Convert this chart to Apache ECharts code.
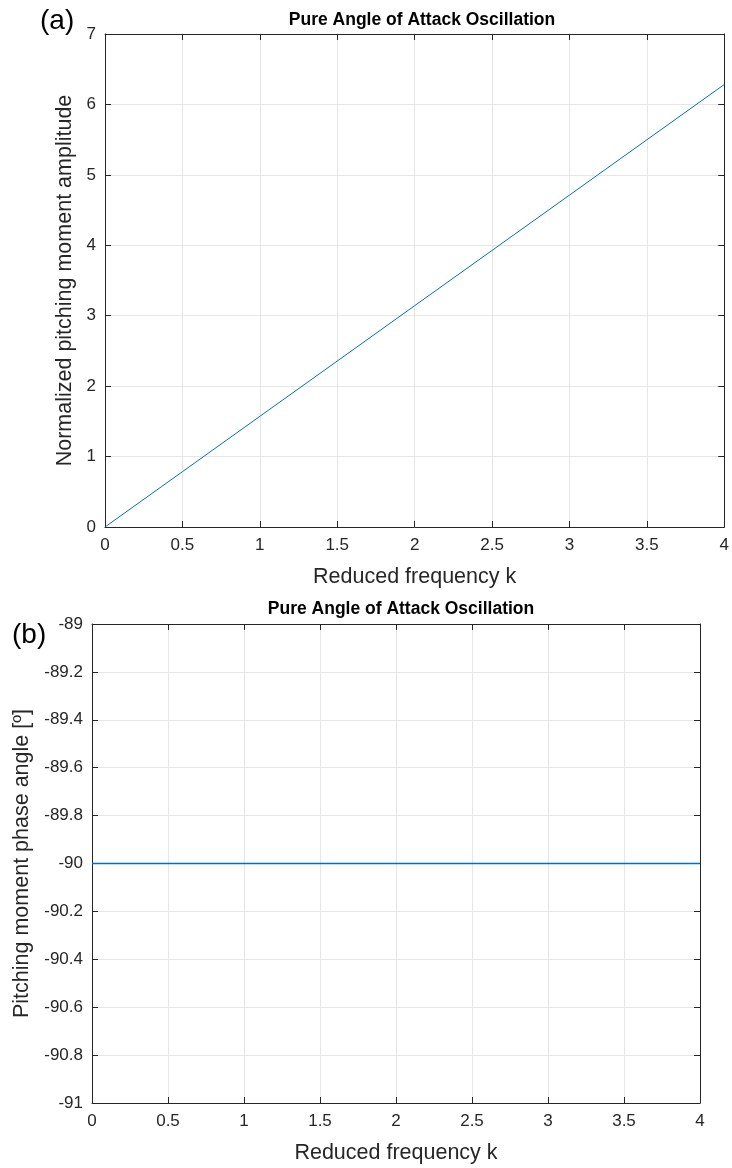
<!DOCTYPE html>
<html>
<head>
<meta charset="utf-8">
<script src="https://cdn.jsdelivr.net/npm/echarts@6/dist/echarts.min.js"></script>
<style>html,body{margin:0;padding:0;background:#fff}#c{width:732px;height:1168px}</style>
</head>
<body>
<div id="c"></div>
<script>
var kValues = [0, 0.5, 1, 1.5, 2, 2.5, 3, 3.5, 4];
var amplitude = [0, 0.785, 1.571, 2.356, 3.142, 3.927, 4.712, 5.498, 6.283];
var phase = [-90, -90, -90, -90, -90, -90, -90, -90, -90];
var titleA = 'Pure Angle of Attack Oscillation';
var titleB = 'Pure Angle of Attack Oscillation';
var xName = 'Reduced frequency k';
var yNameA = 'Normalized pitching moment amplitude';
var yNameB = 'Pitching moment phase angle [º]';

var FONT = 'Liberation Sans, Arial, sans-serif';
var AX = '#262626';
var GRID = '#e6e6e6';
var BLUE = '#0072BD';

function fmt(v) {
  var s = (Math.round(v * 10) / 10).toFixed(1);
  if (s.slice(-2) === '.0') s = s.slice(0, -2);
  return s;
}

var grids = [
  {left: 105, top: 34, width: 624, height: 493},
  {left: 92, top: 624, width: 608, height: 479}
];

function xAxes(gi, nameGap) {
  return [
    {type: 'value', gridIndex: gi, min: 0, max: 4, interval: 0.5, position: 'bottom',
     name: xName, nameLocation: 'middle', nameGap: nameGap,
     nameTextStyle: {fontFamily: FONT, fontSize: 21.5, color: AX},
     axisLine: {show: true, onZero: false, lineStyle: {color: AX, width: 1}},
     axisTick: {show: true, inside: true, length: 6, lineStyle: {color: AX}},
     axisLabel: {fontFamily: FONT, fontSize: 17, color: AX, margin: 10, formatter: fmt},
     splitLine: {show: true, lineStyle: {color: GRID, width: 1}}},
    {type: 'value', gridIndex: gi, min: 0, max: 4, interval: 0.5, position: 'top',
     axisLine: {show: true, onZero: false, lineStyle: {color: AX, width: 1}},
     axisTick: {show: true, inside: true, length: 6, lineStyle: {color: AX}},
     axisLabel: {show: false}, splitLine: {show: false}}
  ];
}

function yAxes(gi, min, max, interval, name, nameGap) {
  return [
    {type: 'value', gridIndex: gi, min: min, max: max, interval: interval, position: 'left',
     name: name, nameLocation: 'middle', nameGap: nameGap,
     nameTextStyle: {fontFamily: FONT, fontSize: 21.5, color: AX},
     axisLine: {show: true, onZero: false, lineStyle: {color: AX, width: 1}},
     axisTick: {show: true, inside: true, length: 6, lineStyle: {color: AX}},
     axisLabel: {fontFamily: FONT, fontSize: 17, color: AX, margin: 9, formatter: fmt},
     splitLine: {show: true, lineStyle: {color: GRID, width: 1}}},
    {type: 'value', gridIndex: gi, min: min, max: max, interval: interval, position: 'right',
     axisLine: {show: true, onZero: false, lineStyle: {color: AX, width: 1}},
     axisTick: {show: true, inside: true, length: 6, lineStyle: {color: AX}},
     axisLabel: {show: false}, splitLine: {show: false}}
  ];
}

var chart = echarts.init(document.getElementById('c'), null, {renderer: 'canvas'});
chart.setOption({
  animation: false,
  backgroundColor: '#fff',
  title: [
    {text: titleA, left: 417, top: 6, textAlign: 'center',
     textStyle: {fontFamily: FONT, fontSize: 17.5, fontWeight: 'bold', color: '#000'}},
    {text: titleB, left: 396, top: 595, textAlign: 'center',
     textStyle: {fontFamily: FONT, fontSize: 17.5, fontWeight: 'bold', color: '#000'}}
  ],
  graphic: [
    {type: 'text', left: 40, top: 7, style: {text: '(a)', fontFamily: FONT, fontSize: 28, fill: '#000'}},
    {type: 'text', left: 12, top: 621, style: {text: '(b)', fontFamily: FONT, fontSize: 28, fill: '#000'}}
  ],
  grid: grids,
  xAxis: xAxes(0, 39).concat(xAxes(1, 39)),
  yAxis: yAxes(0, 0, 7, 1, yNameA, 22).concat(yAxes(1, -91, -89, 0.2, yNameB, 45)),
  series: [
    {type: 'line', xAxisIndex: 0, yAxisIndex: 0, showSymbol: false, symbol: 'none', z: 5,
     lineStyle: {color: BLUE, width: 1}, data: kValues.map(function (k, i) { return [k, amplitude[i]]; })},
    {type: 'line', xAxisIndex: 2, yAxisIndex: 2, showSymbol: false, symbol: 'none', z: 5,
     lineStyle: {color: BLUE, width: 1.5}, data: kValues.map(function (k, i) { return [k, phase[i]]; })}
  ]
});
</script>
</body>
</html>
